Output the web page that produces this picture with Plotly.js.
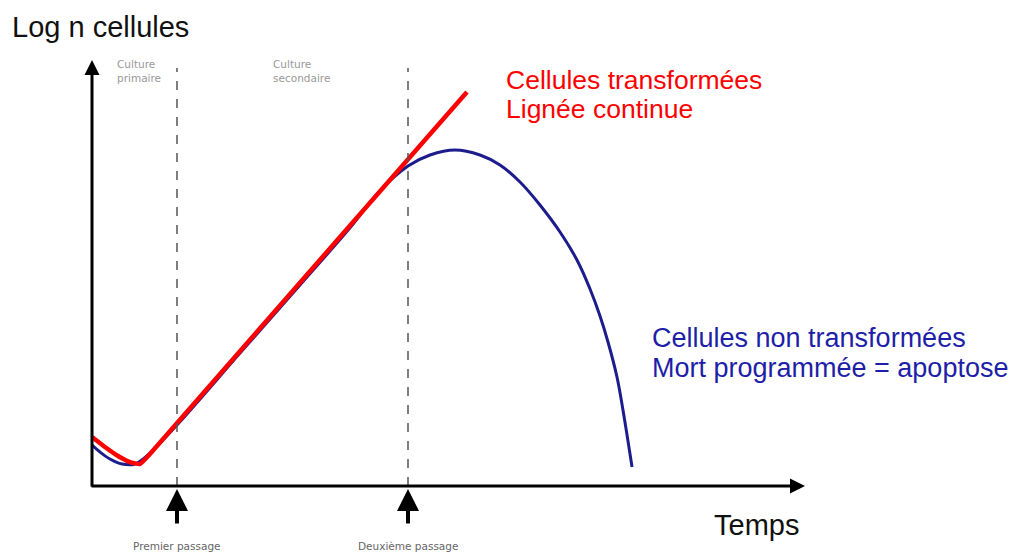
<!DOCTYPE html>
<html>
<head>
<meta charset="utf-8">
<script src="https://cdn.plot.ly/plotly-3.0.1.min.js"></script>
<style>html,body{margin:0;padding:0;background:#fff;}#chart{width:1017px;height:554px;}</style>
</head>
<body>
<div id="chart"></div>
<script>
// Temps (arbitrary units) and Log n cellules (arbitrary units)
const redTime = [0, 1.82, 3.65, 5.33, 6.73, 8.13, 52.59];
const redLog  = [11.5, 9.15, 7.04, 5.63, 5.16, 7.51, 92.49];

const blueTime = [0, 1.12, 2.52, 4.21, 6.03, 7.85, 11.92, 20.76, 29.17, 36.19, 40.39, 44.32, 47.41, 50.91, 54.42, 57.22, 60.03, 62.83, 65.64, 68.02, 69.85, 71.25, 72.37, 73.63, 74.47, 75.74];
const blueLog  = [9.62, 7.98, 6.34, 5.16, 5.16, 7.28, 14.32, 31.2, 47.2, 60.6, 69.3, 75.1, 77.7, 78.87, 77.7, 75.35, 71.36, 65.96, 59.62, 53.05, 46.24, 39.91, 33.8, 25.59, 17.84, 4.46];

const passages = [11.92, 44.32];
const passageLabels = ["Premier passage", "Deuxième passage"];
const cultureLabels = ["Culture<br>primaire", "Culture<br>secondaire"];
const cultureTime = [3.2, 25.1];

const redLabels = ["Cellules transformées", "Lignée continue"];
const blueLabels = ["Cellules non transformées", "Mort programmée = apoptose"];

const FONT = "Liberation Sans, Arial, sans-serif";
const SMALL = "DejaVu Sans, Verdana, sans-serif";

const traces = [
  {x: blueTime, y: blueLog, mode: "lines", line: {color: "#1c1c8c", width: 3, shape: "spline", smoothing: 1}, hoverinfo: "skip"},
  {x: redTime, y: redLog, mode: "lines", line: {color: "#ff0000", width: 4.5, shape: "spline", smoothing: 0.4}, hoverinfo: "skip"}
];

// plot area: x 92..805 px, y 60..486 px
const L = 92, R = 805, T = 60, B = 486;
const px = v => (v - L) / (R - L);
const py = v => (B - v) / (B - T);

const shapes = passages.map(p => ({
  type: "line", xref: "x", yref: "paper", x0: p, x1: p, y0: 0, y1: py(68),
  line: {color: "#555", width: 1.5, dash: "dash"}
}));

const ann = [];
// axes with arrowheads
ann.push({xref: "paper", yref: "paper", x: 0, y: 1, ax: 0, ay: B - T + 2, axref: "pixel", ayref: "pixel",
  showarrow: true, arrowhead: 2, arrowsize: 1, arrowwidth: 3, arrowcolor: "#000", text: ""});
ann.push({xref: "paper", yref: "paper", x: 1, y: 0, ax: -(R - L + 2), ay: 0,
  showarrow: true, arrowhead: 2, arrowsize: 1, arrowwidth: 3, arrowcolor: "#000", text: ""});
// passage arrows
passages.forEach((p, i) => {
  ann.push({xref: "x", yref: "paper", x: p, y: py(489), ax: 0, ay: 36,
    showarrow: true, arrowhead: 2, arrowsize: 1.1, arrowwidth: 4, arrowcolor: "#000", text: ""});
  ann.push({xref: "x", yref: "paper", x: p, y: py(546), xanchor: "center", yanchor: "middle",
    showarrow: false, text: passageLabels[i], font: {family: SMALL, size: 10.5, color: "#666"}});
});
cultureTime.forEach((c, i) => {
  ann.push({xref: "x", yref: "paper", x: c, y: py(71), xanchor: "left", yanchor: "middle", align: "left",
    showarrow: false, text: cultureLabels[i], font: {family: SMALL, size: 10.5, color: "#999"}});
});
ann.push({xref: "paper", yref: "paper", x: px(10), y: py(27), xanchor: "left", yanchor: "middle",
  showarrow: false, text: "Log n cellules", font: {family: FONT, size: 29, color: "#111"}});
ann.push({xref: "paper", yref: "paper", x: px(712), y: py(525), xanchor: "left", yanchor: "middle",
  showarrow: false, text: "Temps", font: {family: FONT, size: 29, color: "#111"}});
redLabels.forEach((t, i) => {
  ann.push({xref: "paper", yref: "paper", x: px(504), y: py(80 + 29 * i), xanchor: "left", yanchor: "middle",
    showarrow: false, text: t, font: {family: FONT, size: 26.5, color: "#ff0000"}});
});
blueLabels.forEach((t, i) => {
  ann.push({xref: "paper", yref: "paper", x: px(650), y: py(338 + 30 * i), xanchor: "left", yanchor: "middle",
    showarrow: false, text: t, font: {family: FONT, size: 27, color: "#1e1ea8"}});
});

const layout = {
  width: 1017, height: 554,
  margin: {l: L, r: 1017 - R, t: T, b: 554 - B, pad: 0},
  paper_bgcolor: "#fff", plot_bgcolor: "#fff",
  showlegend: false,
  xaxis: {range: [0, 100], visible: false, fixedrange: true},
  yaxis: {range: [0, 100], visible: false, fixedrange: true},
  shapes: shapes,
  annotations: ann
};

Plotly.newPlot("chart", traces, layout, {staticPlot: true, displayModeBar: false});
</script>
</body>
</html>
